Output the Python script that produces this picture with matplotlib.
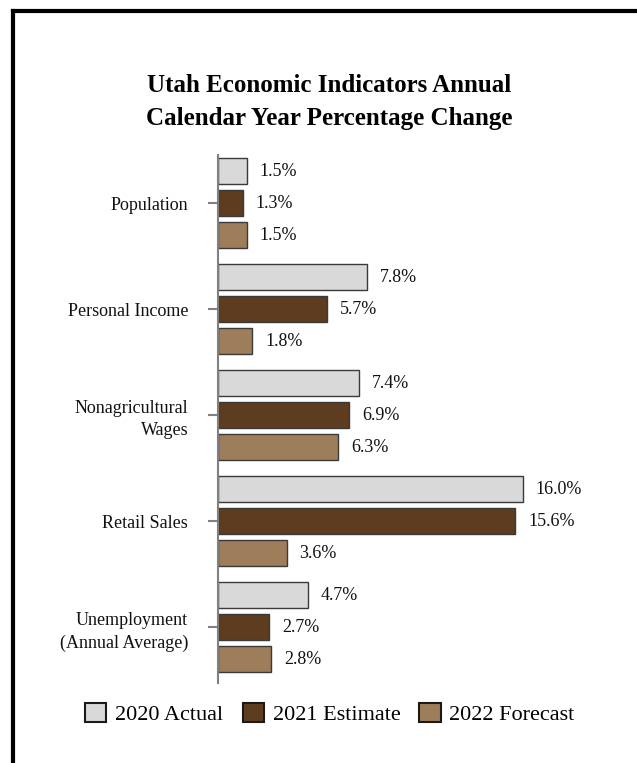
import numpy as np
import matplotlib
matplotlib.use('Agg')
import matplotlib.pyplot as plt
from matplotlib.patches import Patch
from matplotlib.lines import Line2D

plt.rcParams['font.family'] = ['Liberation Serif', 'DejaVu Serif']

categories = ['Population', 'Personal Income', 'Nonagricultural\nWages',
              'Retail Sales', 'Unemployment\n(Annual Average)']
series = ['2020 Actual', '2021 Estimate', '2022 Forecast']
actual_2020 = [1.5, 7.8, 7.4, 16.0, 4.7]
estimate_2021 = [1.3, 5.7, 6.9, 15.6, 2.7]
forecast_2022 = [1.5, 1.8, 6.3, 3.6, 2.8]
colors = ['#D9D9D9', '#5E3C1F', '#9E7D5A']

fig = plt.figure(figsize=(6.37, 7.63), dpi=100)
ax = fig.add_axes([218/637, 1-683/763, 381/637, 528/763])

y = np.arange(len(categories))
offsets = [-0.302, 0.0, 0.302]
values = [actual_2020, estimate_2021, forecast_2022]
for vals, off, col in zip(values, offsets, colors):
    bars = ax.barh(y + off, vals, height=0.245, color=col, edgecolor='#3a3a3a', linewidth=1)
    for b, v in zip(bars, vals):
        ax.text(v + 0.68, b.get_y() + b.get_height()/2, '%.1f%%' % v,
                va='center', ha='left', fontsize=13, color='#111111')

ax.set_xlim(0, 20)
ax.set_ylim(4.528, -0.453)
ax.set_yticks(y)
ax.set_yticklabels(categories, fontsize=13, color='#111111', ha='right', linespacing=1.4)
ax.set_xticks([])
for s in ['top', 'right', 'bottom']:
    ax.spines[s].set_visible(False)
ax.spines['left'].set_color('#808080')
ax.spines['left'].set_linewidth(1.5)
ax.tick_params(axis='y', length=7.5, width=1.5, color='#808080', pad=14)

fig.text(0.5165, 1-102/763, 'Utah Economic Indicators Annual\nCalendar Year Percentage Change',
         ha='center', va='center', fontsize=18, fontweight='bold', linespacing=1.55)

handles = [Patch(facecolor=c, edgecolor='#1a1a1a', linewidth=1.5) for c in colors]
fig.legend(handles, series, loc='center', bbox_to_anchor=(330/637, 1-714/763), ncol=3,
           frameon=False, fontsize=16, handlelength=0.95, handleheight=0.95,
           handletextpad=0.4, columnspacing=0.86, borderaxespad=0)

# outer frame lines (left and top only)
fig.add_artist(Line2D([13/637, 13/637], [0, 1-11/763], transform=fig.transFigure,
                      color='black', linewidth=3, solid_capstyle='projecting'))
fig.add_artist(Line2D([13/637, 1], [1-11/763, 1-11/763], transform=fig.transFigure,
                      color='black', linewidth=3, solid_capstyle='projecting'))

fig.savefig('out.png', dpi=100)
